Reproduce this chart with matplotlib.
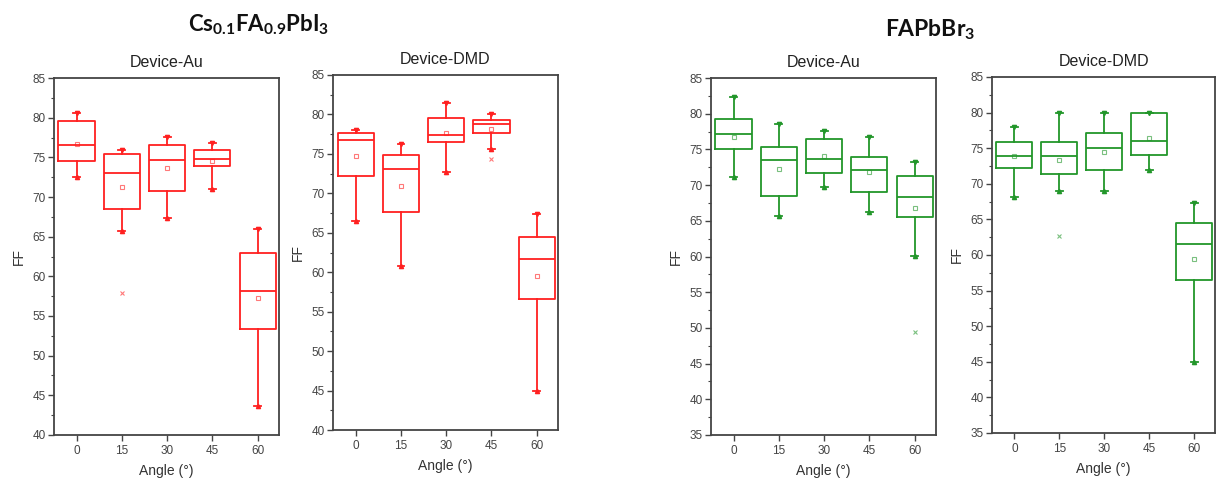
import matplotlib.pyplot as plt
from matplotlib.ticker import MultipleLocator, AutoMinorLocator

plt.rcParams['font.family'] = ['Liberation Sans', 'DejaVu Sans']
plt.rcParams['mathtext.fontset'] = 'custom'
plt.rcParams['mathtext.rm'] = 'Lato:bold'
plt.rcParams['mathtext.it'] = 'Lato:bold:italic'
plt.rcParams['mathtext.bf'] = 'Lato:bold'

angles = ['0', '15', '30', '45', '60']

# Cs0.1FA0.9PbI3, Au electrode
cs_au_lo = [72.5, 65.7, 67.3, 71.0, 43.7]
cs_au_q1 = [74.5, 68.5, 70.8, 73.9, 53.3]
cs_au_med = [76.5, 73.0, 74.7, 74.8, 58.2]
cs_au_q3 = [79.6, 75.4, 76.5, 75.9, 63.0]
cs_au_hi = [80.6, 75.9, 77.6, 76.8, 66.0]
cs_au_mean = [76.7, 71.3, 73.7, 74.6, 57.3]
cs_au_out = [[], [57.9], [], [], []]

# Cs0.1FA0.9PbI3, DMD electrode
cs_dmd_lo = [66.5, 60.8, 72.7, 75.6, 45.0]
cs_dmd_q1 = [72.2, 67.6, 76.5, 77.7, 56.6]
cs_dmd_med = [76.7, 73.1, 77.4, 78.8, 61.7]
cs_dmd_q3 = [77.7, 74.9, 79.6, 79.3, 64.5]
cs_dmd_hi = [78.0, 76.2, 81.4, 80.0, 67.4]
cs_dmd_mean = [74.7, 70.9, 77.7, 78.2, 59.5]
cs_dmd_out = [[], [], [], [74.4], []]

# FAPbBr3, Au electrode
fa_au_lo = [71.1, 65.7, 69.8, 66.2, 60.1]
fa_au_q1 = [75.0, 68.5, 71.7, 69.1, 65.5]
fa_au_med = [77.1, 73.5, 73.7, 72.1, 68.4]
fa_au_q3 = [79.3, 75.4, 76.5, 73.9, 71.3]
fa_au_hi = [82.4, 78.5, 77.6, 76.8, 73.2]
fa_au_mean = [76.8, 72.2, 74.1, 71.8, 66.8]
fa_au_out = [[], [], [], [], [49.4]]

# FAPbBr3, DMD electrode
fa_dmd_lo = [68.1, 69.0, 69.0, 72.0, 45.0]
fa_dmd_q1 = [72.2, 71.4, 72.0, 74.0, 56.5]
fa_dmd_med = [73.9, 73.9, 75.0, 76.0, 61.6]
fa_dmd_q3 = [75.9, 75.9, 77.1, 80.0, 64.5]
fa_dmd_hi = [78.0, 80.0, 80.0, 80.0, 67.3]
fa_dmd_mean = [73.9, 73.3, 74.5, 76.5, 59.4]
fa_dmd_out = [[], [62.6], [], [], []]

RED = '#ff2020'
GREEN = '#22962a'
AXC = '#444444'


def box_panel(rect, lo, q1, med, q3, hi, mean, out, color, ymin, title):
    ax = fig.add_axes(rect)
    stats = []
    for i, a in enumerate(angles):
        stats.append(dict(whislo=lo[i], q1=q1[i], med=med[i], q3=q3[i],
                          whishi=hi[i], mean=mean[i], fliers=out[i], label=a))
    pos = list(range(len(angles)))
    lw = 1.3
    ax.bxp(stats, positions=pos, widths=0.8, showmeans=True, capwidths=0.15,
           boxprops=dict(color=color, lw=lw),
           whiskerprops=dict(color=color, lw=lw),
           capprops=dict(color=color, lw=lw),
           medianprops=dict(color=color, lw=lw),
           meanprops=dict(marker='s', markersize=2.2, markerfacecolor='none',
                          markeredgecolor=color, markeredgewidth=0.8, alpha=0.6),
           flierprops=dict(marker='x', markersize=3, markeredgecolor=color,
                           markeredgewidth=0.8, alpha=0.6))
    # min / max markers at the whisker ends
    ax.plot(pos, hi, ls='none', marker='v', ms=3, color=color)
    ax.plot(pos, lo, ls='none', marker='^', ms=3, color=color)

    ax.set_xlim(-0.5, 4.47)
    ax.set_ylim(ymin, 85)
    ax.yaxis.set_major_locator(MultipleLocator(5))
    ax.yaxis.set_minor_locator(AutoMinorLocator(2))
    ax.tick_params(which='both', direction='out', colors=AXC, labelsize=8.5,
                   top=False, right=False)
    ax.tick_params(which='major', length=4, width=1)
    ax.tick_params(which='minor', length=2, width=0.8)
    ax.tick_params(axis='y', pad=2)
    for s in ax.spines.values():
        s.set_color(AXC)
        s.set_linewidth(1.3)
    ax.set_xlabel('Angle (°)', fontsize=10, color='#333333', labelpad=5)
    ax.set_ylabel('FF', fontsize=10, color='#333333', labelpad=5)
    ax.set_title(title, fontsize=11.5, color='#222222', pad=8)
    return ax


fig = plt.figure(figsize=(12.18, 4.87), dpi=100)

box_panel([0.0443, 0.1068, 0.1847, 0.733], cs_au_lo, cs_au_q1, cs_au_med,
          cs_au_q3, cs_au_hi, cs_au_mean, cs_au_out, RED, 40, 'Device-Au')
box_panel([0.2734, 0.117, 0.1847, 0.729], cs_dmd_lo, cs_dmd_q1, cs_dmd_med,
          cs_dmd_q3, cs_dmd_hi, cs_dmd_mean, cs_dmd_out, RED, 40, 'Device-DMD')
box_panel([0.5837, 0.1068, 0.1847, 0.733], fa_au_lo, fa_au_q1, fa_au_med,
          fa_au_q3, fa_au_hi, fa_au_mean, fa_au_out, GREEN, 35, 'Device-Au')
box_panel([0.8144, 0.1109, 0.1835, 0.731], fa_dmd_lo, fa_dmd_q1, fa_dmd_med,
          fa_dmd_q3, fa_dmd_hi, fa_dmd_mean, fa_dmd_out, GREEN, 35, 'Device-DMD')

fig.text(0.212, 0.95, r'Cs$_{0.1}$FA$_{0.9}$PbI$_3$', ha='center', va='center',
         fontsize=16, fontweight='bold', family='Lato', color='#111111')
fig.text(0.764, 0.94, r'FAPbBr$_3$', ha='center', va='center',
         fontsize=16.5, fontweight='bold', family='Lato', color='#111111')

fig.savefig('out.png', dpi=100)
